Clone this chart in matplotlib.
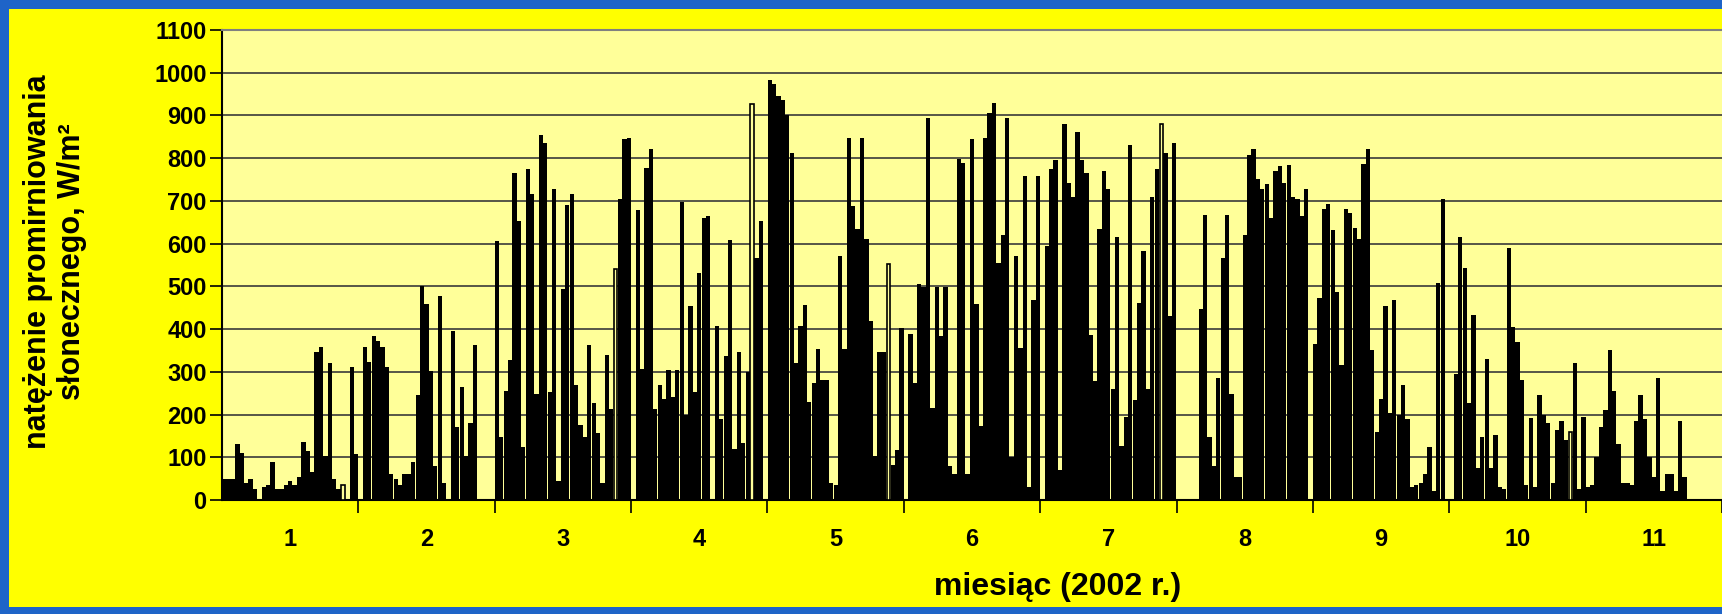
import numpy as np
import matplotlib
matplotlib.use("Agg")
import matplotlib.pyplot as plt
from matplotlib.patches import Rectangle

# natezenie promieniowania dla kolejnych dni, 31 miejsc na miesiac (0 = brak danych)
months = list(range(1, 12))
m01 = [50, 50, 50, 130, 110, 40, 50, 25, 0, 30, 35, 88, 25, 25, 35, 45,
       35, 55, 135, 115, 65, 346, 358, 104, 321, 50, 25, 35, 0, 311, 108]
m02 = [0, 358, 323, 385, 373, 358, 311, 60, 50, 35, 60, 60, 88, 245, 502, 458,
       303, 80, 477, 40, 0, 395, 172, 264, 104, 180, 363, 0, 0, 0, 0]
m03 = [606, 148, 256, 327, 766, 653, 123, 774, 717, 248, 854, 836, 252, 729, 45, 495,
       690, 716, 270, 175, 147, 362, 227, 156, 40, 340, 212, 541, 704, 844, 848]
m04 = [0, 678, 307, 778, 822, 213, 270, 237, 305, 241, 305, 698, 198, 454, 252, 531,
       660, 664, 0, 407, 190, 337, 608, 120, 346, 134, 299, 927, 567, 652, 0]
m05 = [983, 973, 946, 936, 902, 811, 321, 407, 457, 229, 273, 354, 281, 281, 40, 35,
       572, 354, 848, 688, 635, 848, 612, 418, 104, 346, 346, 552, 83, 116, 402]
m06 = [0, 388, 274, 506, 498, 895, 216, 498, 385, 498, 80, 60, 799, 789, 60, 844,
       458, 174, 848, 906, 928, 555, 620, 895, 100, 571, 355, 759, 30, 469, 759]
m07 = [0, 594, 774, 795, 70, 880, 741, 708, 862, 795, 766, 387, 278, 634, 770, 729,
       260, 616, 127, 195, 832, 234, 461, 583, 260, 708, 774, 879, 813, 430, 836]
m08 = [0, 0, 0, 0, 0, 446, 666, 148, 80, 285, 567, 668, 248, 55, 55, 620,
       807, 822, 752, 727, 739, 661, 770, 782, 742, 785, 708, 705, 664, 729, 0]
m09 = [365, 473, 680, 692, 631, 487, 315, 680, 672, 637, 612, 787, 821, 350, 159, 237,
       454, 203, 469, 199, 270, 190, 30, 35, 40, 60, 123, 20, 509, 705, 0]
m10 = [0, 295, 616, 543, 227, 433, 75, 147, 329, 75, 151, 30, 25, 589, 406, 370,
       281, 35, 192, 30, 245, 200, 180, 40, 165, 185, 140, 160, 320, 25, 195]
m11 = [30, 35, 100, 170, 210, 350, 255, 130, 40, 40, 35, 185, 245, 190, 100, 55,
       285, 20, 60, 60, 20, 185, 55]
# dni zaznaczone pustym slupkiem (miesiac, dzien)
hollow = [(1, 28), (3, 28), (4, 28), (5, 28), (7, 28), (10, 28)]

series = [m01, m02, m03, m04, m05, m06, m07, m08, m09, m10, m11]
vals = np.concatenate([np.array(m, dtype=float) for m in series])
x = np.arange(len(vals))
is_hollow = np.zeros(len(vals), dtype=bool)
for m, d in hollow:
    is_hollow[(m - 1) * 31 + d - 1] = True

plt.rcParams['font.family'] = ['Liberation Sans', 'DejaVu Sans']
plt.rcParams['font.weight'] = 'bold'

W, H = 1722, 614
fig = plt.figure(figsize=(W / 100, H / 100), dpi=100, facecolor='#1E64C8')
fig.patches.append(Rectangle((9 / W, 7 / H), 1, 1 - 16 / H, transform=fig.transFigure,
                             facecolor='#FFFF00', edgecolor='none', zorder=-10))

ax = fig.add_axes([222 / W, (H - 500) / H, 1 - 222 / W, 470 / H])
ax.set_facecolor('#FFFF99')
ax.bar(x[~is_hollow], vals[~is_hollow], width=0.97, color='black', linewidth=0, zorder=3)
ax.bar(x[is_hollow], vals[is_hollow], width=0.75, facecolor='#FFFF99',
       edgecolor='black', linewidth=1.2, zorder=3)

ax.set_ylim(0, 1100)
ax.set_xlim(-0.5, 331.5)
ax.set_yticks(range(0, 1101, 100))
ax.yaxis.grid(True, color='#3a3a3a', linewidth=1.2)
ax.set_axisbelow(True)

ax.set_xticks(np.arange(0, 11) * 31 + 30.5)
ax.set_xticklabels([])
ax.set_xticks(np.arange(0, 11) * 31 + 15, minor=True)
ax.set_xticklabels([str(m) for m in months], minor=True)
ax.tick_params(axis='x', which='minor', length=0, pad=20, labelsize=17)
ax.tick_params(axis='x', which='major', length=9, width=1.2, direction='out')
ax.tick_params(axis='y', length=9, width=1.2, direction='out', labelsize=17, pad=2)

for s in ['left', 'bottom']:
    ax.spines[s].set_color('black')
    ax.spines[s].set_linewidth(1.5)
ax.spines['top'].set_color('#808080')
ax.spines['top'].set_linewidth(1.5)
ax.spines['right'].set_visible(False)

fig.text(1058 / W, 1 - 587 / H, 'miesiąc (2002 r.)', ha='center', va='center',
         fontsize=23, fontweight='bold')
fig.text(55 / W, 1 - 262 / H, 'natężenie promirniowania\nsłonecznego, W/m²',
         rotation=90, ha='center', va='center', multialignment='center',
         fontsize=22, fontweight='bold', linespacing=1.15)

fig.savefig('out.png', dpi=100, facecolor=fig.get_facecolor())
